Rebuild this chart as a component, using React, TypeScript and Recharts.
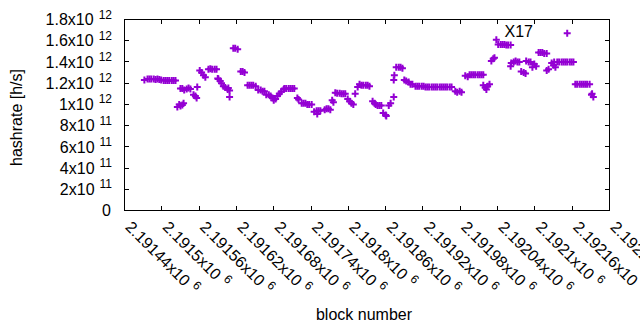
import React from "react";
import { ScatterChart, Scatter, XAxis, YAxis } from "recharts";

const xTicks = [
  2191440, 2191500, 2191560, 2191620, 2191680, 2191740, 2191800,
  2191860, 2191920, 2191980, 2192040, 2192100, 2192160, 2192220,
];
const xTickLabels = [
  "2.19144", "2.1915", "2.19156", "2.19162", "2.19168", "2.19174", "2.1918",
  "2.19186", "2.19192", "2.19198", "2.19204", "2.1921", "2.19216", "2.19222",
];
const yTicks = [0, 2e11, 4e11, 6e11, 8e11, 1e12, 1.2e12, 1.4e12, 1.6e12, 1.8e12];
const yTickMantissas = ["0", "2", "4", "6", "8", "1", "1.2", "1.4", "1.6", "1.8"];
const yTickExponents = ["", "11", "11", "11", "11", "12", "12", "12", "12", "12"];

// [block number, hashrate in 10^12 h/s]
const samples: [number, number][] = [
  [2191472, 1.23], [2191477, 1.24], [2191480, 1.24], [2191483, 1.24], [2191487, 1.24],
  [2191490, 1.235], [2191493, 1.24], [2191496, 1.235], [2191499, 1.23], [2191503, 1.225],
  [2191506, 1.225], [2191509, 1.225], [2191512, 1.225], [2191516, 1.225], [2191519, 1.225],
  [2191522, 1.225],
  [2191525, 0.975], [2191528, 1.0], [2191530, 0.985], [2191533, 0.995], [2191535, 1.01],
  [2191530, 1.15], [2191533, 1.15], [2191536, 1.135], [2191540, 1.145], [2191543, 1.155],
  [2191546, 1.145],
  [2191551, 1.09], [2191554, 1.08], [2191556, 1.06], [2191557, 1.165],
  [2191561, 1.32], [2191564, 1.3], [2191567, 1.275], [2191570, 1.255],
  [2191575, 1.33], [2191578, 1.335], [2191581, 1.33], [2191585, 1.33], [2191588, 1.33],
  [2191590, 1.245], [2191591, 1.24], [2191594, 1.22], [2191596, 1.2],
  [2191599, 1.17], [2191602, 1.16], [2191606, 1.14], [2191607, 1.155],
  [2191609, 1.13], [2191609, 1.07],
  [2191615, 1.53], [2191618, 1.53], [2191622, 1.52],
  [2191627, 1.31], [2191630, 1.31], [2191633, 1.3],
  [2191638, 1.18], [2191641, 1.18], [2191644, 1.18], [2191647, 1.18], [2191651, 1.17],
  [2191655, 1.135], [2191659, 1.135], [2191662, 1.125], [2191665, 1.125],
  [2191668, 1.09], [2191672, 1.09], [2191675, 1.08],
  [2191678, 1.06], [2191680, 1.04], [2191683, 1.05], [2191686, 1.08], [2191689, 1.1],
  [2191692, 1.12], [2191696, 1.14],
  [2191697, 1.15], [2191700, 1.15], [2191704, 1.15], [2191707, 1.15], [2191710, 1.15],
  [2191713, 1.15],
  [2191718, 1.06], [2191720, 1.045],
  [2191725, 1.01], [2191728, 1.01], [2191731, 1.01], [2191734, 1.0], [2191737, 1.0],
  [2191741, 1.0],
  [2191745, 0.93], [2191749, 0.94], [2191750, 0.91], [2191752, 0.94], [2191755, 0.94],
  [2191762, 0.95], [2191765, 0.96], [2191768, 0.96], [2191771, 0.95],
  [2191774, 1.04], [2191776, 1.02],
  [2191779, 1.11], [2191782, 1.105], [2191786, 1.105], [2191789, 1.1], [2191792, 1.1],
  [2191795, 1.1],
  [2191799, 1.05], [2191802, 1.03], [2191805, 1.01], [2191808, 1.0],
  [2191811, 1.1], [2191815, 1.165],
  [2191818, 1.19], [2191821, 1.18], [2191824, 1.18], [2191828, 1.18], [2191831, 1.18],
  [2191834, 1.17],
  [2191839, 1.03], [2191842, 1.01],
  [2191844, 1.0], [2191847, 0.99], [2191850, 0.99], [2191853, 0.99],
  [2191856, 0.92], [2191860, 0.9], [2191861, 0.89],
  [2191865, 0.99], [2191868, 1.01],
  [2191873, 1.07], [2191873, 1.23], [2191874, 1.275],
  [2191877, 1.35], [2191881, 1.35], [2191884, 1.35], [2191887, 1.34],
  [2191890, 1.23], [2191893, 1.22],
  [2191897, 1.21], [2191900, 1.19], [2191903, 1.19],
  [2191908, 1.17], [2191911, 1.17], [2191914, 1.17], [2191918, 1.17], [2191921, 1.17],
  [2191924, 1.165], [2191927, 1.165], [2191930, 1.165], [2191934, 1.165], [2191937, 1.165],
  [2191940, 1.165], [2191943, 1.165], [2191947, 1.165], [2191950, 1.165], [2191953, 1.165],
  [2191956, 1.165], [2191959, 1.165], [2191963, 1.165], [2191966, 1.165],
  [2191972, 1.125], [2191975, 1.115], [2191979, 1.125], [2191982, 1.115],
  [2191988, 1.27], [2191992, 1.26], [2191995, 1.28],
  [2191998, 1.28], [2192001, 1.28], [2192004, 1.28], [2192008, 1.28], [2192011, 1.28],
  [2192014, 1.28], [2192017, 1.28],
  [2192017, 1.18], [2192020, 1.16], [2192022, 1.14], [2192024, 1.17], [2192027, 1.19],
  [2192030, 1.41], [2192033, 1.43], [2192035, 1.44],
  [2192038, 1.61],
  [2192041, 1.565], [2192045, 1.565], [2192048, 1.565], [2192051, 1.565], [2192054, 1.56],
  [2192057, 1.56], [2192061, 1.56],
  [2192061, 1.36], [2192062, 1.39],
  [2192066, 1.4], [2192069, 1.41], [2192072, 1.4], [2192075, 1.4],
  [2192078, 1.31], [2192082, 1.3], [2192085, 1.29],
  [2192086, 1.41], [2192090, 1.4], [2192093, 1.4],
  [2192096, 1.35], [2192099, 1.38], [2192102, 1.36],
  [2192106, 1.49], [2192109, 1.49], [2192112, 1.49], [2192115, 1.48], [2192119, 1.48],
  [2192119, 1.32], [2192122, 1.33],
  [2192127, 1.39], [2192130, 1.37], [2192131, 1.4], [2192133, 1.35],
  [2192136, 1.4], [2192139, 1.4], [2192143, 1.4], [2192146, 1.4], [2192149, 1.4],
  [2192152, 1.4], [2192156, 1.4], [2192159, 1.4], [2192162, 1.4],
  [2192152, 1.67],
  [2192165, 1.19], [2192168, 1.19], [2192172, 1.19], [2192175, 1.19], [2192178, 1.19],
  [2192181, 1.19], [2192184, 1.19], [2192188, 1.19],
  [2192191, 1.09], [2192192, 1.1], [2192194, 1.07],
];

const table = samples.map(([block, h]) => ({ block, hashrate: h * 1e12 }));

// plot frame in page pixels (from the margins below)
const LEFT = 124.5;
const TOP = 19.5;
const RIGHT = 609.5;
const BOTTOM = 210.5;
const TIC = 4;

const PURPLE = "#9400d3";
const FONT = '"Liberation Sans", Arial, sans-serif';

function PlusPoint(props: any) {
  const { cx, cy } = props;
  if (cx == null || cy == null) return null;
  return (
    <path
      d={`M${cx - 3.5},${cy}H${cx + 3.5}M${cx},${cy - 3.5}V${cy + 3.5}`}
      stroke={PURPLE}
      strokeWidth={2}
      fill="none"
    />
  );
}

// 1px solid black bar, drawn as a filled rect so it stays crisp
function Bar1({ x, y, w, h }: { x: number; y: number; w: number; h: number }) {
  return <rect x={x} y={y} width={w} height={h} fill="#000" />;
}

function XTick({ x, payload }: any) {
  const i = xTicks.indexOf(payload.value);
  const px = Math.floor(x);
  return (
    <g>
      <Bar1 x={px} y={BOTTOM - 0.5 - TIC} w={1} h={TIC} />
      <Bar1 x={px} y={TOP + 0.5} w={1} h={TIC} />
      <g transform={`translate(${x},228) rotate(45)`}>
        <text x={0} y={0} fontFamily={FONT} fontSize={16} fill="#000">
          {xTickLabels[i]}x10
          <tspan dx={5} dy={-6.7} fontSize={12}>6</tspan>
        </text>
      </g>
    </g>
  );
}

function YTick({ y, payload }: any) {
  const i = yTicks.indexOf(payload.value);
  const exp = yTickExponents[i];
  const py = Math.floor(y);
  return (
    <g>
      <Bar1 x={LEFT + 0.5} y={py} w={TIC} h={1} />
      <Bar1 x={RIGHT - 0.5 - TIC} y={py} w={TIC} h={1} />
      <text x={exp ? 112 : 111} y={y + 5.7} textAnchor="end" fontFamily={FONT} fontSize={16} fill="#000">
        {exp ? `${yTickMantissas[i]}x10` : yTickMantissas[i]}
        {exp && <tspan dx={5} dy={-6.7} fontSize={12}>{exp}</tspan>}
      </text>
    </g>
  );
}

export default function App() {
  return (
    <div style={{ position: "absolute", left: 0, top: 0, width: 640, height: 330, background: "#fff" }}>
      <ScatterChart
        width={640}
        height={330}
        margin={{ top: TOP, right: 640 - RIGHT, bottom: 0, left: 0 }}
      >
        <XAxis
          dataKey="block"
          type="number"
          domain={[2191440, 2192220]}
          ticks={xTicks}
          interval={0}
          allowDataOverflow
          height={330 - BOTTOM}
          axisLine={false}
          tickLine={false}
          tick={(p: any) => <XTick {...p} />}
        />
        <YAxis
          dataKey="hashrate"
          type="number"
          domain={[0, 1.8e12]}
          ticks={yTicks}
          interval={0}
          allowDataOverflow
          width={LEFT}
          axisLine={false}
          tickLine={false}
          tick={(p: any) => <YTick {...p} />}
        />
        <Scatter data={table} dataKey="hashrate" shape={PlusPoint} isAnimationActive={false} />
      </ScatterChart>
      <svg
        width={640}
        height={330}
        style={{ position: "absolute", left: 0, top: 0, pointerEvents: "none" }}
      >
        {/* plot border, drawn as four 1px bars */}
        <Bar1 x={LEFT - 0.5} y={TOP - 0.5} w={RIGHT - LEFT + 1} h={1} />
        <Bar1 x={LEFT - 0.5} y={BOTTOM - 0.5} w={RIGHT - LEFT + 1} h={1} />
        <Bar1 x={LEFT - 0.5} y={TOP - 0.5} w={1} h={BOTTOM - TOP + 1} />
        <Bar1 x={RIGHT - 0.5} y={TOP - 0.5} w={1} h={BOTTOM - TOP + 1} />
        <text
          transform="translate(22,117.5) rotate(-90)"
          textAnchor="middle"
          fontFamily={FONT}
          fontSize={16}
          fill="#000"
        >
          hashrate [h/s]
        </text>
        <text x={364} y={320} textAnchor="middle" fontFamily={FONT} fontSize={16} fill="#000">
          block number
        </text>
        <text x={504.5} y={37} fontFamily={FONT} fontSize={16} fill="#000">
          X17
        </text>
      </svg>
    </div>
  );
}
